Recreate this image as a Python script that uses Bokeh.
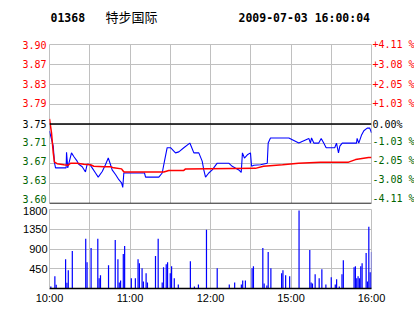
from bokeh.plotting import figure
from bokeh.layouts import column
from bokeh.models import Range1d, FixedTicker, Grid, Span, ColumnDataSource
from bokeh.core.properties import value
from bokeh.embed import file_html
from bokeh.resources import INLINE

# ---------------- data ----------------
stock_code = "01368"
stock_name = "特步国际"
stamp = "2009-07-03 16:00:04"
prev_close = 3.75
band_pct = 4.11

# trading minutes from 10:00 (12:30 joins 14:30, 240 = 16:00)
price_minute = [0, 2.8, 3.7, 4.5, 12.4, 12.7, 13.6, 16.4, 18.1, 20.6, 21.8, 24.4, 26.8, 28.1,
                29.8, 31.8, 34.3, 36.3, 39.3, 41.7, 43.8, 45.5, 46.7, 49.2, 51.7, 53.7, 54.6,
                55.4, 70.8, 71.6, 81.5, 84.0, 85.7, 87.7, 90.2, 93.9, 96.4, 100.1, 104.6, 105.6,
                107.6, 111.3, 113.8, 115.0, 116.3, 118.7, 121.3, 125.0, 133.6, 136.2, 141.1,
                142.9, 143.8, 145.3, 147.8, 149.8, 150.6, 152.3, 157.3, 162.3, 163.0, 164.7,
                178.4, 182.1, 185.8, 188.3, 193.3, 194.5, 195.3, 197.0, 200.7, 202.5, 204.4,
                206.2, 212.6, 213.9, 215.4, 216.4, 218.2, 228.8, 229.3, 230.5, 232.5, 234.3,
                236.8, 238.7, 240]
price_value = [3.736, 3.707, 3.675, 3.665, 3.665, 3.695, 3.665, 3.694, 3.687, 3.678, 3.672,
               3.667, 3.657, 3.672, 3.672, 3.665, 3.655, 3.647, 3.658, 3.671, 3.684, 3.671,
               3.661, 3.652, 3.642, 3.636, 3.627, 3.655, 3.655, 3.647, 3.647, 3.655, 3.678,
               3.704, 3.704, 3.694, 3.696, 3.704, 3.713, 3.707, 3.694, 3.694, 3.678, 3.661,
               3.647, 3.655, 3.661, 3.674, 3.674, 3.668, 3.661, 3.656, 3.694, 3.684, 3.691,
               3.694, 3.668, 3.670, 3.671, 3.674, 3.713, 3.723, 3.723, 3.718, 3.713, 3.716,
               3.722, 3.713, 3.723, 3.713, 3.713, 3.722, 3.713, 3.704, 3.704, 3.713, 3.694,
               3.707, 3.713, 3.713, 3.722, 3.713, 3.728, 3.737, 3.742, 3.742, 3.733]

avg_minute = [0, 1.5, 2.8, 3.7, 5.7, 10.7, 13.9, 15.7, 20.6, 25.6, 30.6, 33.0, 40.5, 45.5,
              47.9, 53.7, 54.6, 55.5, 85.2, 88.9, 100.1, 101.4, 153.5, 159.5, 173.7, 185.6,
              202.0, 222.9, 228.1, 237.8, 240]
avg_value = [3.760, 3.733, 3.694, 3.676, 3.673, 3.671, 3.670, 3.674, 3.674, 3.672, 3.671,
             3.668, 3.667, 3.667, 3.665, 3.663, 3.660, 3.657, 3.657, 3.660, 3.660, 3.663,
             3.664, 3.668, 3.671, 3.674, 3.676, 3.676, 3.681, 3.685, 3.685]

vol_minute = [0, 1, 4, 5, 12, 13, 14, 17, 27, 28, 31, 36, 37, 38, 44, 49, 51, 52, 53, 55, 56,
              61, 64, 66, 67, 69, 70, 72, 73, 79, 81, 84, 85, 87, 88, 90, 91, 93, 96, 105, 108,
              111, 117, 125, 134, 138, 143, 144, 146, 151, 152, 159, 160, 162, 163, 165, 173,
              174, 176, 179, 186, 194, 195, 196, 198, 201, 203, 206, 210, 213, 214, 216, 218,
              219, 227, 228, 229, 230, 231, 232, 233, 236, 237, 238, 239, 240]
vol_value = [46, 46, 277, 85, 669, 131, 415, 854, 1131, 600, 923, 1131, 231, 300, 531, 1107,
             669, 138, 185, 784, 969, 231, 231, 669, 577, 461, 161, 346, 138, 738, 1131, 138,
             485, 554, 600, 346, 508, 231, 92, 623, 46, 92, 1338, 461, 92, 138, 92, 185, 185,
             461, 508, 923, 115, 69, 831, 461, 346, 415, 300, 277, 1776, 877, 138, 115, 323,
             231, 438, 92, 254, 92, 208, 46, 323, 646, 485, 508, 231, 277, 231, 508, 577, 808,
             161, 1407, 369, 831]

pct_levels = [4.11, 3.0825, 2.055, 1.0275, 0.0, -1.0275, -2.055, -3.0825, -4.11]
price_tick_labels = ["3.90", "3.87", "3.83", "3.79", "3.75", "3.71", "3.67", "3.63", "3.60"]
pct_tick_labels = ["+4.11 %", "+3.08 %", "+2.05 %", "+1.03 %", " 0.00%",
                   "-1.03 %", "-2.05 %", "-3.08 %", "-4.11 %"]
grid_minutes = [30, 60, 90, 120, 150, 180, 210]
time_ticks = [0, 60, 120, 180, 240]
time_labels = ["10:00", "11:00", "12:00", "15:00", "16:00"]
vol_ticks = [450, 900, 1350, 1800]
vol_labels = ["450", "900", "1350", "1800"]

# ---------------- styles ----------------
GRID = "#c0c0c0"
UP = "#ff0000"
DOWN = "#006400"
label_nudge = [0, 0, 0, -1, 0, -2, -3, -4, -5]
MONO = value("DejaVu Sans Mono")
BORDERS = dict(min_border_left=49, min_border_right=43)


def drop_default_grids(p):
    p.center = [r for r in p.center if not isinstance(r, Grid)]


# ---------------- header ----------------
hdr = figure(width=414, height=30, x_range=Range1d(49, 371), y_range=Range1d(30, 0),
             x_axis_location=None, y_axis_location=None, toolbar_location=None,
             output_backend="svg", min_border_top=0, min_border_bottom=0,
             outline_line_color=None, **BORDERS)
drop_default_grids(hdr)
for tx, ty, txt, fnt, sty, size in [
        (50, 17, stock_code, MONO, "bold", "11.5px"),
        (105, 16, stock_name, value("Noto Sans CJK SC"), "normal", "13px"),
        (238, 17, stamp, MONO, "bold", "11.5px")]:
    rr = hdr.text(x=[tx], y=[ty], text=[txt], text_font=fnt, text_font_style=sty,
                  text_font_size=size, text_baseline="middle", text_color="black")
    rr.level = "overlay"

# ---------------- price panel ----------------
lo = prev_close * (1 - band_pct / 100)
hi = prev_close * (1 + band_pct / 100)
price_ticks = [prev_close * (1 + p / 100) for p in pct_levels]
x_range = Range1d(0, 240)

pf = figure(width=414, height=176, x_range=x_range, y_range=Range1d(lo, hi),
            x_axis_location=None, y_axis_location=None, toolbar_location=None,
            output_backend="svg", min_border_top=14, min_border_bottom=3,
            outline_line_color=GRID, **BORDERS)
drop_default_grids(pf)
pf.add_layout(Grid(dimension=0, ticker=FixedTicker(ticks=grid_minutes), grid_line_color=GRID))
pf.add_layout(Grid(dimension=1, ticker=FixedTicker(ticks=price_ticks), grid_line_color=GRID))
pf.add_layout(Span(location=prev_close, dimension="width", line_color="black", line_width=1.3))
pf.add_layout(Span(location=lo, dimension="width", line_color="black", line_width=1.5))

pf.line(price_minute, price_value, line_color="#0000ff", line_width=1.1)
pf.line(avg_minute, avg_value, line_color="#ff0000", line_width=1.5)

cols = [UP if p > 0 else (DOWN if p < 0 else "black") for p in pct_levels]
lab_src = ColumnDataSource(dict(y=price_ticks, plab=price_tick_labels, qlab=pct_tick_labels,
                                col=cols, xl=[0] * 9, xr=[240] * 9, dy=label_nudge))
r1 = pf.text(x="xl", y="y", text="plab", text_color="col", text_align="right",
             text_baseline="middle", x_offset=-3, y_offset="dy", text_font=MONO,
             text_font_size="10px", source=lab_src)
r1.level = "overlay"
r2 = pf.text(x="xr", y="y", text="qlab", text_color="col", text_align="left",
             text_baseline="middle", x_offset=1, y_offset="dy", text_font=MONO,
             text_font_size="10px", source=lab_src)
r2.level = "overlay"

# ---------------- volume panel ----------------
vf = figure(width=414, height=108, x_range=x_range, y_range=Range1d(0, 1800),
            toolbar_location=None, output_backend="svg", min_border_top=3,
            min_border_bottom=26, outline_line_color=GRID, **BORDERS)
drop_default_grids(vf)
vf.add_layout(Grid(dimension=0, ticker=FixedTicker(ticks=grid_minutes), grid_line_color=GRID))
vf.add_layout(Grid(dimension=1, ticker=FixedTicker(ticks=vol_ticks), grid_line_color=GRID))
vf.vbar(x=vol_minute, top=vol_value, width=0.9, fill_color="#0000ff", line_color=None)

vf.xaxis.ticker = FixedTicker(ticks=time_ticks)
vf.xaxis.major_label_overrides = dict(zip(time_ticks, time_labels))
vf.xaxis.axis_line_color = "black"
vf.xaxis.axis_line_width = 1.5
vf.xaxis.major_tick_out = 0
vf.xaxis.major_tick_in = 0
vf.xaxis.minor_tick_line_color = None
vf.xaxis.major_label_standoff = 3
vf.xaxis.major_label_text_font = "Liberation Sans"
vf.xaxis.major_label_text_font_size = "11px"
vf.xaxis.major_label_text_color = "black"

vf.yaxis.ticker = FixedTicker(ticks=vol_ticks)
vf.yaxis.major_label_overrides = dict(zip(vol_ticks, vol_labels))
vf.yaxis.axis_line_color = GRID
vf.yaxis.major_tick_out = 0
vf.yaxis.major_tick_in = 0
vf.yaxis.minor_tick_line_color = None
vf.yaxis.major_label_standoff = 2
vf.yaxis.major_label_text_font = "Liberation Sans"
vf.yaxis.major_label_text_font_size = "11px"
vf.yaxis.major_label_text_color = "black"

layout = column(hdr, pf, vf, spacing=0)
open("out.html", "w").write(file_html(layout, INLINE))
